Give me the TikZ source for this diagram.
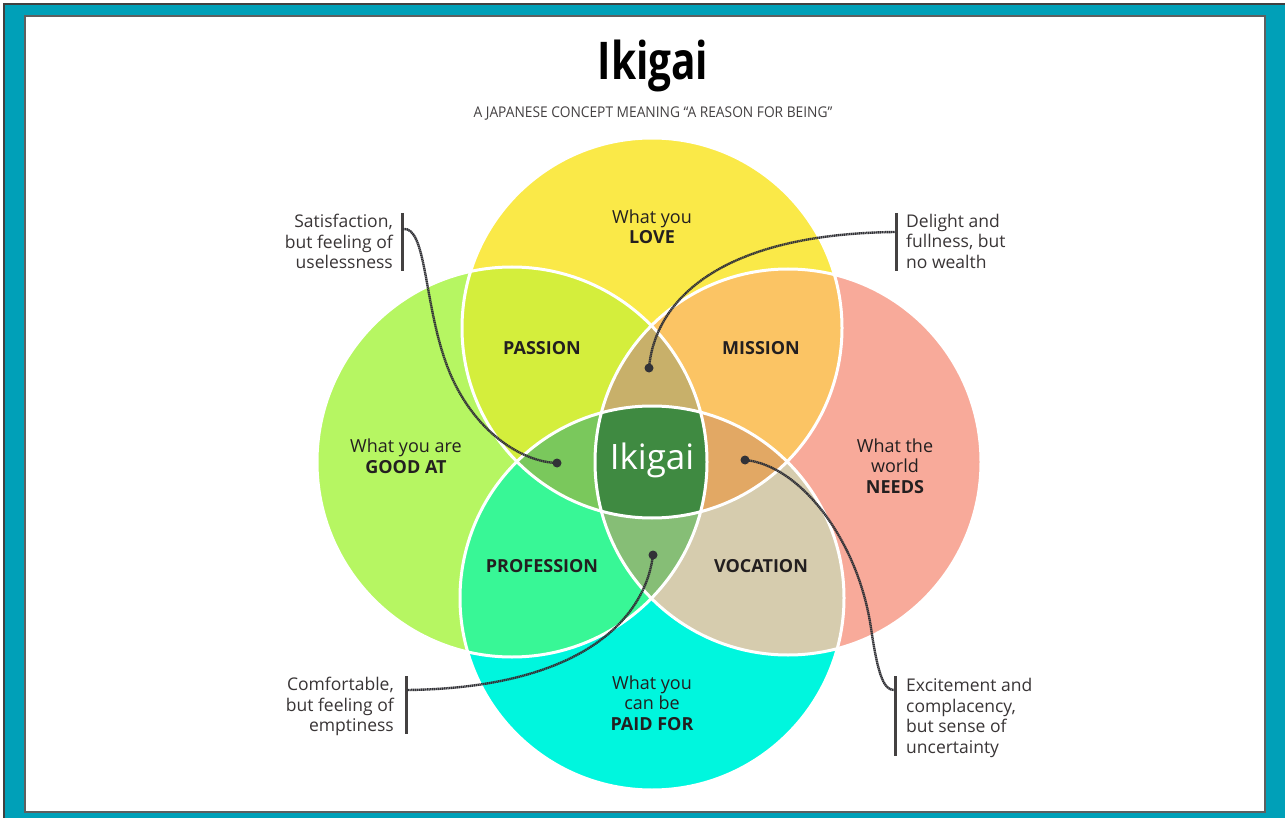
\documentclass[tikz,border=0pt]{standalone}
\usepackage{fontspec}
\setmainfont{Open Sans}
\usetikzlibrary{calc}
\definecolor{frameteal}{RGB}{0,160,184}
\definecolor{frameline}{RGB}{95,95,95}
\definecolor{cLove}{RGB}{250,233,72}
\definecolor{cGood}{RGB}{182,246,98}
\definecolor{cNeeds}{RGB}{248,170,154}
\definecolor{cPaid}{RGB}{0,246,222}
\definecolor{cPassion}{RGB}{212,238,60}
\definecolor{cMission}{RGB}{251,196,100}
\definecolor{cProfession}{RGB}{56,247,150}
\definecolor{cVocation}{RGB}{214,204,174}
\definecolor{cTopMid}{RGB}{200,176,106}
\definecolor{cLeftMid}{RGB}{122,200,92}
\definecolor{cRightMid}{RGB}{226,168,100}
\definecolor{cBotMid}{RGB}{134,190,118}
\definecolor{cIkigai}{RGB}{63,138,65}
\definecolor{ink}{RGB}{35,31,32}
\definecolor{connink}{RGB}{50,50,55}
\begin{document}
\begin{tikzpicture}[x=1pt,y=-1pt,
  lbl/.style={align=center, inner sep=0pt, text=ink, font=\fontsize{18}{20.5}\selectfont},
  hd/.style={inner sep=0pt, text=ink, font=\bfseries\fontsize{18}{20.5}\selectfont},
  note/.style={inner sep=0pt, text=ink!90, font=\fontsize{17.5}{20.5}\selectfont},
  bar/.style={draw=ink!85, line width=3pt},
  conn/.style={draw=connink, line width=2.4pt, dash pattern=on 1.4pt off 0.5pt},
  enddot/.style={fill=connink},
  ring/.style={draw=white, line width=3pt}]
\useasboundingbox (0,0) rectangle (1285,818);
% frame
\fill[white] (0,0) rectangle (1285,818);
\fill[frameteal] (4,4) rectangle (1285,818);
\draw[black!75, line width=1.2pt] (4,818) -- (4,4) -- (1285,4);
\fill[white] (25,16) rectangle (1265,812);
\draw[frameline, line width=2pt] (25,16) rectangle (1265,812);
% circle centres
\coordinate (cT) at (652,328);
\coordinate (cB) at (652,598);
\coordinate (cL) at (512,462);
\coordinate (cR) at (788,462);
\def\rT{190pt}\def\rB{192pt}\def\rL{195pt}\def\rR{193pt}
% base circles
\fill[cLove] (cT) circle[radius=\rT];
\fill[cGood] (cL) circle[radius=\rL];
\fill[cNeeds] (cR) circle[radius=\rR];
\fill[cPaid] (cB) circle[radius=\rB];
% pairs
\begin{scope}\clip (cT) circle[radius=\rT]; \fill[cPassion] (cL) circle[radius=\rL];\end{scope}
\begin{scope}\clip (cT) circle[radius=\rT]; \fill[cMission] (cR) circle[radius=\rR];\end{scope}
\begin{scope}\clip (cB) circle[radius=\rB]; \fill[cProfession] (cL) circle[radius=\rL];\end{scope}
\begin{scope}\clip (cB) circle[radius=\rB]; \fill[cVocation] (cR) circle[radius=\rR];\end{scope}
% triples
\begin{scope}\clip (cT) circle[radius=\rT]; \clip (cL) circle[radius=\rL]; \fill[cTopMid] (cR) circle[radius=\rR];\end{scope}
\begin{scope}\clip (cT) circle[radius=\rT]; \clip (cL) circle[radius=\rL]; \fill[cLeftMid] (cB) circle[radius=\rB];\end{scope}
\begin{scope}\clip (cT) circle[radius=\rT]; \clip (cR) circle[radius=\rR]; \fill[cRightMid] (cB) circle[radius=\rB];\end{scope}
\begin{scope}\clip (cB) circle[radius=\rB]; \clip (cL) circle[radius=\rL]; \fill[cBotMid] (cR) circle[radius=\rR];\end{scope}
% centre
\begin{scope}\clip (cT) circle[radius=\rT]; \clip (cL) circle[radius=\rL]; \clip (cR) circle[radius=\rR]; \fill[cIkigai] (cB) circle[radius=\rB];\end{scope}
% white outlines
\draw[ring] (cT) circle[radius=\rT];
\draw[ring] (cL) circle[radius=\rL];
\draw[ring] (cR) circle[radius=\rR];
\draw[ring] (cB) circle[radius=\rB];
% title
\node[inner sep=0pt, text=black, font=\bfseries\fontsize{52}{52}\selectfont] (title) at (653,66) {\scalebox{0.78}[1]{Ikigai}};
\node[inner sep=0pt, text=ink!85, font=\fontsize{14.8}{16}\selectfont] (subtitle) at (653,114) {\scalebox{0.93}[1]{A JAPANESE CONCEPT MEANING “A REASON FOR BEING”}};
% circle labels
\node[lbl] (love) at (652,227) {What you\\\textbf{LOVE}};
\node[lbl] (good) at (406,456) {What you are\\\textbf{GOOD AT}};
\node[lbl] (needs) at (895,466) {What the\\world\\\textbf{NEEDS}};
\node[lbl] (paid) at (652,703) {What you\\can be\\\textbf{PAID FOR}};
\node[hd] (passion) at (542,348) {PASSION};
\node[hd] (mission) at (761,348) {MISSION};
\node[hd] (profession) at (542,566) {PROFESSION};
\node[hd] (vocation) at (761,566) {VOCATION};
\node[inner sep=0pt, text=white, font=\fontsize{35}{35}\selectfont] (ikigai) at (652,460) {Ikigai};
% callouts
\node[note, align=right, anchor=north east] (nTL) at (393,214) {Satisfaction,\\but feeling of\\uselessness};
\node[note, align=left, anchor=north west] (nTR) at (906,214) {Delight and\\fullness, but\\no wealth};
\node[note, align=right, anchor=north east] (nBL) at (394,677) {Comfortable,\\but feeling of\\emptiness};
\node[note, align=left, anchor=north west] (nBR) at (906,678) {Excitement and\\complacency,\\but sense of\\uncertainty};
% bars
\draw[bar] (402,213) -- (402,271);
\draw[bar] (896,213) -- (896,271);
\draw[bar] (406,676) -- (406,734);
\draw[bar] (895,676) -- (895,756);
% connector ends
\coordinate (aTL) at (403,229);
\coordinate (aTR) at (895,232);
\coordinate (aBL) at (407,690);
\coordinate (aBR) at (894,690);
\coordinate (dL) at (557,463);
\coordinate (dT) at (649,368);
\coordinate (dB) at (653,555);
\coordinate (dR) at (745,460);
% connectors
\draw[conn] (aTL) .. controls (426,226) and (424,300) .. (445,360) .. controls (468,428) and (520,462) .. (dL);
\draw[conn] (dT) .. controls (655,300) and (720,234) .. (aTR);
\draw[conn] (dB) .. controls (645,620) and (580,688) .. (aBL);
\draw[conn] (dR) .. controls (800,465) and (858,540) .. (871,628) .. controls (878,676) and (884,690) .. (aBR);
\fill[enddot] (dL) circle[radius=4.5pt];
\fill[enddot] (dT) circle[radius=4.5pt];
\fill[enddot] (dB) circle[radius=4.5pt];
\fill[enddot] (dR) circle[radius=4.5pt];
\end{tikzpicture}
\end{document}
